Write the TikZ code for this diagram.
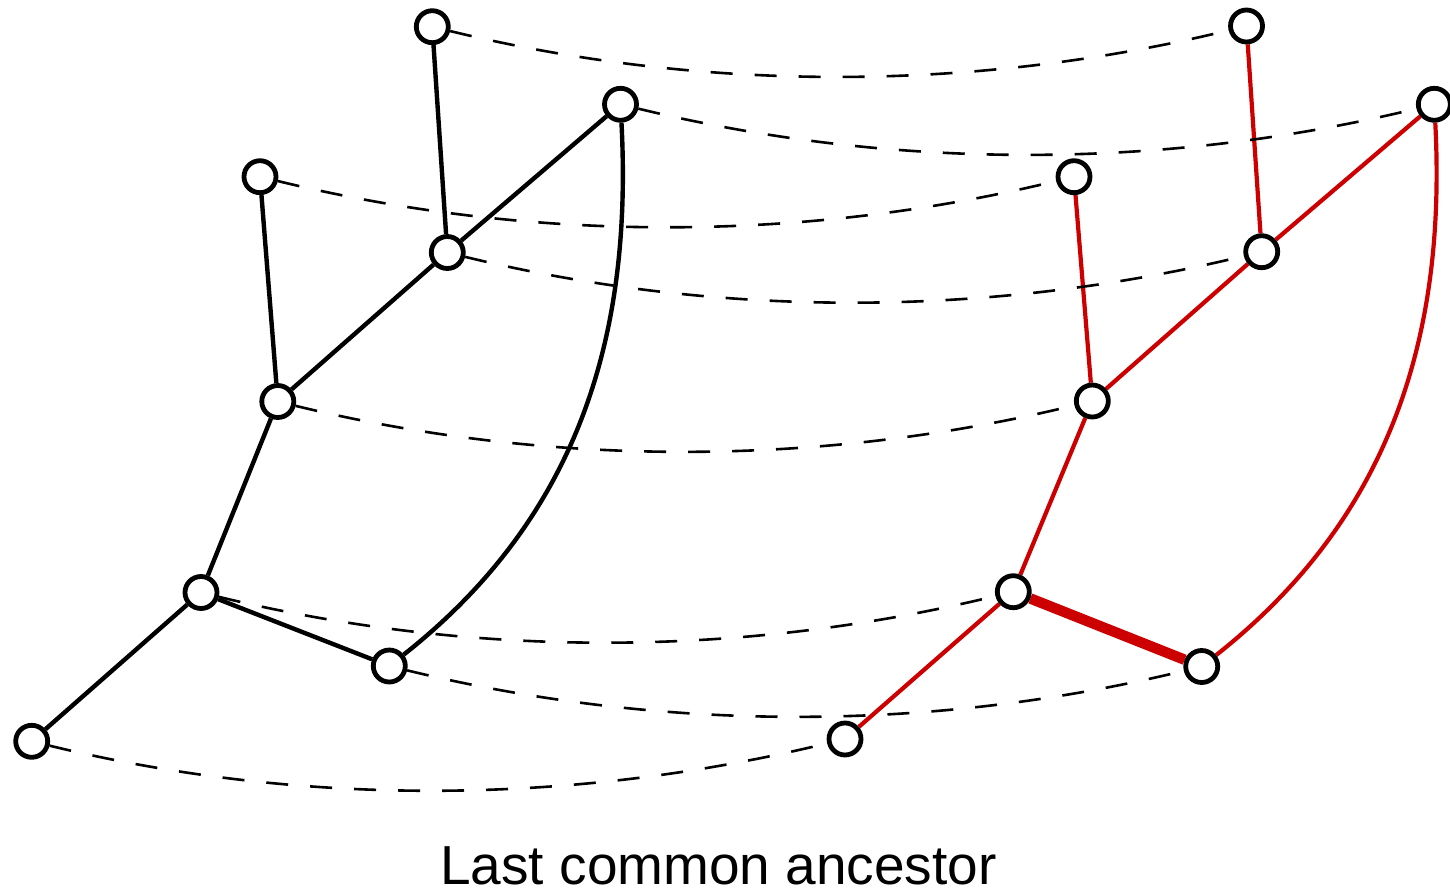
\documentclass[tikz,border=0pt]{standalone}
\usepackage{fontspec}
\setmainfont{Liberation Sans}
\usetikzlibrary{backgrounds}
\definecolor{treered}{RGB}{204,0,0}
\begin{document}
\begin{tikzpicture}[x=1bp,y=-1bp,
  vert/.style={circle,draw=black,fill=white,line width=4.8bp,minimum size=32bp,inner sep=0pt},
  edge/.style={line width=4.4bp,black},
  redge/.style={line width=4.2bp,treered},
  thickedge/.style={line width=10.5bp,treered},
  link/.style={line width=2.6bp,black,dash pattern=on 22bp off 22bp},
]
\useasboundingbox (0,0) rectangle (1450,892);
% left tree
\node[vert] (a1) at (432.3,26.7) {};
\node[vert] (a2) at (620.5,104.3) {};
\node[vert] (a3) at (260,176.7) {};
\node[vert] (a4) at (447.3,252.5) {};
\node[vert] (a5) at (277.8,401.5) {};
\node[vert] (a6) at (201,592.5) {};
\node[vert] (a7) at (389.3,666) {};
\node[vert] (a8) at (31.7,741.3) {};
% right tree
\node[vert] (b1) at (1246.5,26) {};
\node[vert] (b2) at (1434.3,104.3) {};
\node[vert] (b3) at (1074,176.7) {};
\node[vert] (b4) at (1261.7,251.7) {};
\node[vert] (b5) at (1092.3,401) {};
\node[vert] (b6) at (1013.3,591.7) {};
\node[vert] (b7) at (1201.7,666.5) {};
\node[vert] (b8) at (845,739) {};
\node[anchor=base,text depth=0pt,font=\fontsize{55bp}{66bp}\selectfont] (cap) at (718.5,884) {Last common ancestor};
\begin{scope}[on background layer]
  % left tree edges
  \draw[edge] (a1) -- (a4);
  \draw[edge] (a2) -- (a4);
  \draw[edge] (a3) -- (a5);
  \draw[edge] (a4) -- (a5);
  \draw[edge] (a5) -- (a6);
  \draw[edge] (a6) -- (a8);
  \draw[edge] (a6) -- (a7);
  \draw[edge] (a7) .. controls +(190,-150) and +(12,230) .. (a2);
  % right tree edges
  \draw[redge] (b1) -- (b4);
  \draw[redge] (b2) -- (b4);
  \draw[redge] (b3) -- (b5);
  \draw[redge] (b4) -- (b5);
  \draw[redge] (b5) -- (b6);
  \draw[redge] (b6) -- (b8);
  \draw[thickedge] (b6) -- (b7);
  \draw[redge] (b7) .. controls +(190,-150) and +(12,230) .. (b2);
  % correspondence links
  \foreach \i in {1,...,8}{
    \draw[link] (a\i) .. controls +(271,66) and +(-271,66) .. (b\i);
  }
\end{scope}
\end{tikzpicture}
\end{document}
